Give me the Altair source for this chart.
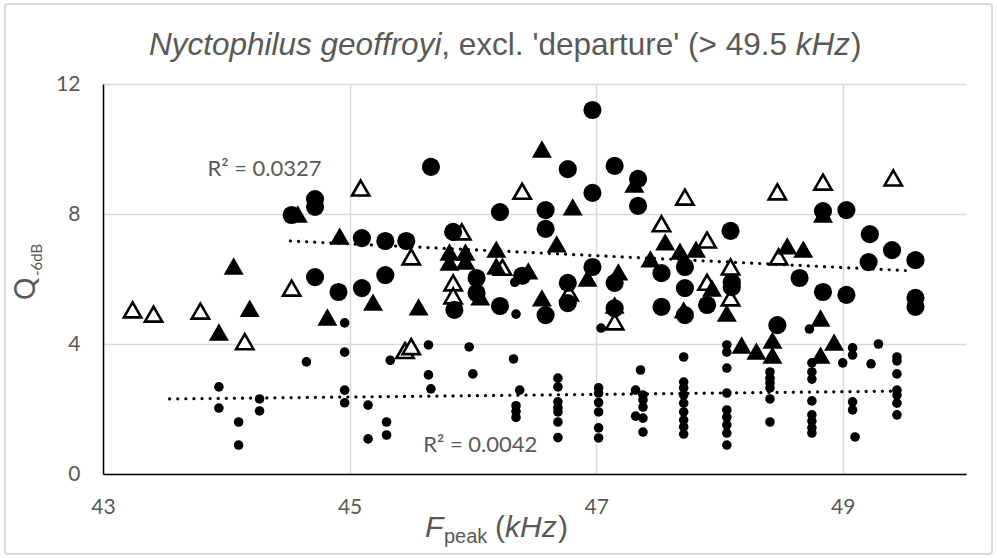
import altair as alt
import pandas as pd

# ---------------- data ----------------
circ_x = [44.53, 44.72, 44.72, 44.72, 44.91, 45.10, 45.10, 45.29, 45.29, 45.46,
          45.66, 45.84, 45.85, 46.03, 46.03, 46.22, 46.22, 46.40, 46.59, 46.59,
          46.59, 46.77, 46.77, 46.77, 46.97, 46.97, 46.97, 47.15, 47.15, 47.15,
          47.34, 47.34, 47.53, 47.53, 47.72, 47.72, 47.72, 47.90, 48.09, 48.10,
          48.10, 48.47, 48.65, 48.84, 48.84, 49.03, 49.03, 49.22, 49.21, 49.40,
          49.59, 49.59, 49.59]
circ_y = [7.97, 8.46, 8.22, 6.06, 5.60, 7.26, 5.72, 7.17, 6.12, 7.17,
          9.45, 7.45, 5.05, 6.03, 5.57, 8.06, 5.17, 6.10, 8.12, 7.54,
          4.89, 9.38, 5.88, 5.26, 11.20, 8.65, 6.37, 9.48, 5.88, 5.10,
          9.08, 8.25, 6.18, 5.14, 6.37, 5.72, 4.89, 5.20, 7.48, 5.90,
          5.75, 4.58, 6.03, 8.09, 5.60, 8.12, 5.51, 7.38, 6.52, 6.89,
          6.58, 5.42, 5.14]

ftri_x = [43.94, 44.06, 44.19, 44.58, 44.82, 44.92, 45.19, 45.56, 45.81, 45.81,
          45.94, 45.94, 46.06, 46.19, 46.19, 46.45, 46.56, 46.56, 46.68, 46.81,
          46.93, 47.15, 47.18, 47.31, 47.44, 47.56, 47.68, 47.71, 47.81, 47.94,
          48.06, 48.18, 48.30, 48.43, 48.43, 48.55, 48.68, 48.82, 48.82, 48.84,
          48.93]
ftri_y = [4.37, 6.40, 5.10, 8.00, 4.83, 7.32, 5.29, 5.14, 6.83, 6.52,
          6.83, 6.55, 5.45, 6.92, 6.40, 6.25, 10.00, 5.42, 7.08, 8.22,
          6.03, 5.20, 6.22, 8.92, 6.62, 7.14, 6.86, 5.05, 6.92, 5.72,
          4.95, 3.97, 3.78, 4.12, 3.66, 7.02, 6.92, 4.80, 3.66, 8.00,
          4.06]

otri_x = [43.24, 43.41, 43.79, 44.15, 44.53, 45.09, 45.45, 45.50, 45.50, 45.84,
          45.84, 45.91, 46.24, 46.40, 46.78, 47.15, 47.53, 47.72, 47.90, 47.90,
          48.09, 48.09, 48.47, 48.48, 48.84, 49.41]
otri_y = [5.05, 4.92, 5.01, 4.07, 5.72, 8.80, 3.80, 3.92, 6.68, 5.88,
          5.48, 7.45, 6.36, 8.70, 5.57, 4.68, 7.70, 8.52, 7.20, 5.90,
          6.37, 5.42, 8.68, 6.68, 8.98, 9.11]

dot_x = [43.94, 43.94, 44.10, 44.10, 44.27, 44.27, 44.65, 44.96, 44.96, 44.96,
         44.96, 45.15, 45.15, 45.30, 45.30, 45.33, 45.64, 45.64, 45.66, 45.97,
         46.00, 46.33, 46.35, 46.34, 46.38, 46.35, 46.35, 46.35, 46.69, 46.69,
         46.69, 46.69, 46.69, 46.69, 46.69, 47.02, 47.02, 47.02, 47.02, 47.02,
         47.02, 47.04, 47.36, 47.32, 47.38, 47.38, 47.38, 47.32, 47.38, 47.38,
         47.71, 47.71, 47.71, 47.71, 47.71, 47.71, 47.71, 47.71, 47.71, 48.06,
         48.06, 48.06, 48.06, 48.06, 48.06, 48.06, 48.06, 48.06, 48.41, 48.41,
         48.41, 48.41, 48.41, 48.41, 48.73, 48.75, 48.75, 48.75, 48.75, 48.75,
         48.75, 48.75, 48.75, 49.00, 49.08, 49.08, 49.08, 49.08, 49.10, 49.23,
         49.29, 49.44, 49.44, 49.44, 49.44, 49.44, 49.44, 49.44]
dot_y = [2.68, 2.03, 1.60, 0.89, 2.31, 1.94, 3.45, 4.65, 3.75, 2.58,
         2.19, 2.12, 1.08, 1.60, 1.20, 3.50, 3.97, 3.05, 2.62, 3.91,
         3.08, 3.54, 4.92, 5.90, 2.58, 2.10, 1.93, 1.74, 2.95, 2.68,
         2.22, 2.04, 1.91, 1.60, 1.12, 2.65, 2.49, 2.20, 1.91, 1.42,
         1.11, 4.49, 3.20, 2.58, 2.43, 2.28, 2.06, 1.78, 1.72, 1.29,
         3.60, 2.83, 2.65, 2.43, 2.18, 1.91, 1.66, 1.45, 1.23, 3.97,
         3.75, 3.26, 2.49, 1.97, 1.75, 1.51, 1.26, 0.89, 3.14, 2.95,
         2.80, 2.65, 2.31, 1.60, 4.46, 3.42, 3.14, 2.92, 2.25, 1.82,
         1.63, 1.42, 1.26, 3.42, 3.88, 3.66, 2.22, 1.97, 1.14, 3.39,
         4.00, 3.60, 3.48, 3.08, 2.58, 2.43, 2.18, 1.82]

# linear trendlines (end points)
trend_hi_x = [44.52, 49.57]
trend_hi_y = [7.17, 6.25]
trend_lo_x = [43.54, 49.43]
trend_lo_y = [2.31, 2.55]

r2_text = ["R² = 0.0327", "R² = 0.0042"]
r2_x = [44.31, 46.06]
r2_y = [9.17, 0.68]

x_ticks = [43, 45, 47, 49]
y_ticks = [0, 4, 8, 12]

# ---------------- chart ----------------
W, H = 863, 390
GRAY = "#595959"

xs = alt.Scale(domain=[43, 50], nice=False, zero=False)
ys = alt.Scale(domain=[0, 12], nice=False, zero=True)

common_axis = dict(grid=True, gridColor="#d9d9d9", gridWidth=1.5,
                   domainColor="#000000", domainWidth=1.5, ticks=False, tickSize=0,
                   labelFont="Lato", labelFontSize=21, labelColor=GRAY,
                   labelFlush=False, labelOverlap=False, format="d", title=None)
x_axis = alt.Axis(values=x_ticks, labelPadding=22, **common_axis)
y_axis = alt.Axis(values=y_ticks, labelPadding=23, **common_axis)

def pts(xv, yv):
    return pd.DataFrame({"x": xv, "y": yv})

enc = dict(x=alt.X("x:Q", scale=xs, axis=x_axis), y=alt.Y("y:Q", scale=ys, axis=y_axis))
enc2 = dict(x=alt.X("x:Q", scale=xs), y=alt.Y("y:Q", scale=ys))

otri = alt.Chart(pts(otri_x, otri_y)).mark_point(
    shape="triangle-up", size=300, filled=True, fill="white", stroke="black",
    strokeWidth=2.6, opacity=1).encode(**enc)
ftri = alt.Chart(pts(ftri_x, ftri_y)).mark_point(
    shape="triangle-up", size=400, filled=True, color="black", opacity=1).encode(**enc2)
circ = alt.Chart(pts(circ_x, circ_y)).mark_circle(
    size=330, color="black", opacity=1).encode(**enc2)
dots = alt.Chart(pts(dot_x, dot_y)).mark_circle(
    size=92, color="black", opacity=1).encode(**enc2)

trend_hi = alt.Chart(pts(trend_hi_x, trend_hi_y)).mark_line(
    color="black", strokeWidth=3.2, strokeDash=[0.1, 8], strokeCap="round").encode(**enc2)
trend_lo = alt.Chart(pts(trend_lo_x, trend_lo_y)).mark_line(
    color="black", strokeWidth=3.2, strokeDash=[0.1, 8], strokeCap="round").encode(**enc2)

r2 = alt.Chart(pd.DataFrame({"x": r2_x, "y": r2_y, "t": r2_text})).mark_text(
    font="Lato", fontSize=22, color=GRAY, align="center", baseline="alphabetic").encode(
    x=alt.X("x:Q", scale=xs), y=alt.Y("y:Q", scale=ys), text="t:N")

one = pd.DataFrame({"k": [0]})

def label(txt, x, y, size, style="normal", font="Liberation Sans", align="left", angle=0):
    kw = dict(text=txt, font=font, fontSize=size, fontStyle=style, color=GRAY,
              align=align, baseline="alphabetic")
    if angle:
        kw["angle"] = angle
    return alt.Chart(one).mark_text(**kw).encode(x=alt.value(x), y=alt.value(y))

# title pieces (Arial metrics at 31.5 px)
TS = 31.5
t0 = 46
t1 = t0 + 9.281 * TS
t2 = t1 + 11.249 * TS
t3 = t2 + 1.722 * TS + 1
title_layers = [
    label("Nyctophilus geoffroyi", t0, -29, TS, "italic"),
    label(", excl. 'departure' (> 49.5 ", t1, -29, TS),
    label("kHz", t2, -29, TS, "italic"),
    label(")", t3, -29, TS),
]
# x axis title
xt_layers = [
    label("F", 322, 453, 30, "italic"),
    label("peak", 341, 459, 20),
    label("(", 392, 453, 30),
    label("kHz", 402, 453, 30, "italic"),
    label(")", 455, 453, 30),
]
# y axis title (rotated)
yt_layers = [
    label("Q", -68, 216, 28, "normal", "Lato", angle=270),
    label("-6dB", -61, 192, 15, "normal", "Lato", angle=270),
]

border = alt.Chart(one).mark_rect(fill=None, stroke="#d9d9d9", strokeWidth=2,
                                  cornerRadius=3).encode(
    x=alt.value(-98), x2=alt.value(W + 26), y=alt.value(-80), y2=alt.value(H + 80))

chart = alt.layer(
    border, otri, ftri, circ, dots, trend_hi, trend_lo, r2,
    *title_layers, *xt_layers, *yt_layers
).properties(
    width=W, height=H,
    autosize=alt.AutoSizeParams(type="none"),
    padding={"left": 103, "top": 84, "right": 31, "bottom": 84},
    background="white",
).configure_view(stroke=None)

chart.save("out.html", embed_options={"renderer": "svg", "actions": False})
